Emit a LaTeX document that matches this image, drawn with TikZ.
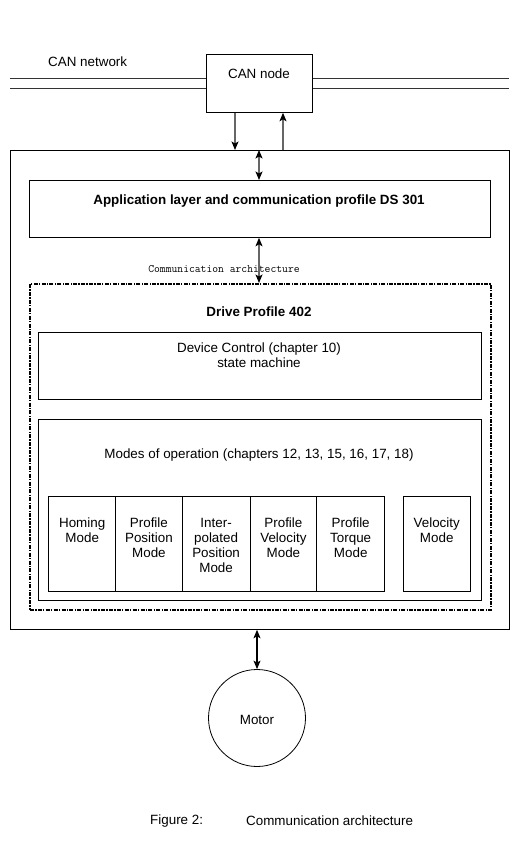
\documentclass[tikz,border=0pt]{standalone}
\usepackage{fontspec}
\setmainfont{Liberation Sans}
\usetikzlibrary{arrows.meta}
\begin{document}
\begin{tikzpicture}[x=1pt,y=-1pt,
  box/.style={draw=black,line width=0.8pt,inner sep=0pt,anchor=north west},
  lbl/.style={font=\fontsize{13.4}{15}\selectfont,align=center,inner sep=0pt},
  blbl/.style={font=\fontsize{13.4}{15}\selectfont\bfseries,inner sep=0pt},
  arr/.style={draw=black!60,line width=1.1pt,-{Stealth[length=8.5pt,width=7pt,inset=2pt,black]}},
  darr/.style={draw=black!60,line width=1.1pt,{Stealth[length=8.5pt,width=7pt,inset=2pt,black]}-{Stealth[length=8.5pt,width=7pt,inset=2pt,black]}},
  net/.style={draw=black!80,line width=0.8pt}]
\useasboundingbox (0,0) rectangle (522,845);
% CAN network
\node[lbl,anchor=west] (cannet) at (48,61.5) {CAN network};
\node[box,minimum width=106pt,minimum height=58pt] (can) at (206,54) {};
\node[lbl] (cantxt) at (259,73.5) {CAN node};
\coordinate (nl) at (10,78);
\coordinate (nr) at (509,78);
\coordinate (nl2) at (10,88);
\coordinate (nr2) at (509,88);
\draw[net] (nl) -- (nl -| can.west);
\draw[net] (nl2) -- (nl2 -| can.west);
\draw[net] (nr -| can.east) -- (nr);
\draw[net] (nr2 -| can.east) -- (nr2);
% outer box
\node[box,minimum width=499pt,minimum height=479pt] (outer) at (10,150) {};
\coordinate (xd) at (235,0);
\coordinate (xu) at (283,0);
\coordinate (xm) at (259,0);
\coordinate (xmo) at (257,0);
\draw[arr] (xd |- can.south) -- (xd |- outer.north);
\draw[arr] (xu |- outer.north) -- (xu |- can.south);
% application layer
\node[box,minimum width=461pt,minimum height=57pt] (app) at (29,180) {};
\node[blbl] (apptxt) at (259,201) {Application layer and communication profile DS 301};
\draw[darr] (xm |- outer.north) -- (xm |- app.north);
% drive profile
\node[draw=black,line width=1.8pt,dash pattern=on 4pt off 1.3pt on 1.3pt off 1.3pt,inner sep=0pt,anchor=north west,minimum width=461pt,minimum height=326pt] (drive) at (29,283) {};
\node[font=\fontsize{11.3}{13}\ttfamily,inner sep=0pt] (comm) at (224,269) {Communication architecture};
\draw[darr] (xm |- app.south) -- (xm |- drive.north);
\node[blbl] (drivetxt) at (259,312) {Drive Profile 402};
% device control
\node[box,minimum width=443pt,minimum height=67pt] (dev) at (38,332) {};
\node[lbl,anchor=north] (devtxt) at (259,342.5) {Device Control (chapter 10)\\state machine};
% modes
\node[box,minimum width=443pt,minimum height=181pt] (modes) at (38,419) {};
\node[lbl] (modestxt) at (259,455) {Modes of operation (chapters 12, 13, 15, 16, 17, 18)};
\node[box,minimum width=67pt,minimum height=95pt] (m1) at (48.3,496) {};
\node[box,minimum width=66.4pt,minimum height=95pt] (m2) at (115.3,496) {};
\node[box,minimum width=68pt,minimum height=95pt] (m3) at (181.7,496) {};
\node[box,minimum width=66.6pt,minimum height=95pt] (m4) at (249.7,496) {};
\node[box,minimum width=68pt,minimum height=95pt] (m5) at (316.3,496) {};
\node[box,minimum width=67.3pt,minimum height=95pt] (m6) at (402.7,496) {};
\node[lbl,anchor=north] (t1) at ([yshift=-22pt]m1.north) {Homing\\Mode};
\node[lbl,anchor=north] (t2) at ([yshift=-22pt]m2.north) {Profile\\Position\\Mode};
\node[lbl,anchor=north] (t3) at ([yshift=-22pt]m3.north) {Inter-\\polated\\Position\\Mode};
\node[lbl,anchor=north] (t4) at ([yshift=-22pt]m4.north) {Profile\\Velocity\\Mode};
\node[lbl,anchor=north] (t5) at ([yshift=-22pt]m5.north) {Profile\\Torque\\Mode};
\node[lbl,anchor=north] (t6) at ([yshift=-22pt]m6.north) {Velocity\\Mode};
% motor
\node[draw=black,line width=0.8pt,circle,minimum size=97pt,inner sep=0pt] (motor) at (257,718) {};
\node[lbl] (motortxt) at (257,720) {Motor};
\draw[line width=1.1pt,{Stealth[length=8.5pt,width=7pt,inset=2pt]}-{Stealth[length=8.5pt,width=7pt,inset=2pt]}] (xmo |- outer.south) -- (motor.north);
% caption
\node[lbl,anchor=west] (fig) at (150,821) {Figure 2:};
\node[lbl,anchor=west] (cap) at (246,821) {Communication architecture};
\end{tikzpicture}
\end{document}
